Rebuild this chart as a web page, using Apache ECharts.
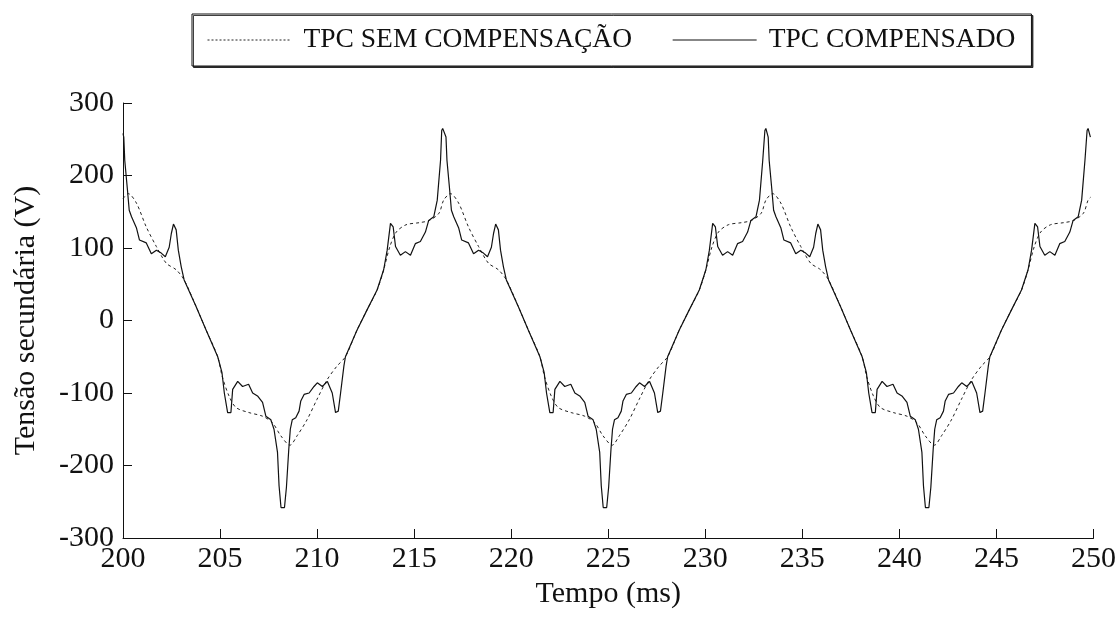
<!DOCTYPE html>
<html>
<head>
<meta charset="utf-8">
<script src="https://cdn.jsdelivr.net/npm/echarts@6/dist/echarts.min.js"></script>
<style>
  html, body { margin: 0; padding: 0; background: #fff; }
  #chart { width: 1119px; height: 623px; }
</style>
</head>
<body>
<div id="chart"></div>
<script>
// Secondary voltage of the CVT, 200–250 ms
const seriesNames = ['TPC SEM COMPENSAÇÃO', 'TPC COMPENSADO'];

// Uncompensated CVT (dashed)
const timeDashed = [
  200.00, 200.27, 200.69, 201.20, 201.72, 202.23, 202.74, 203.15, 203.77, 204.28,
  204.88, 205.11, 205.46, 205.82, 206.49, 207.19, 207.70, 208.13, 208.60, 208.97,
  209.48, 209.99, 210.51, 211.02, 211.46, 212.06, 212.58, 213.09, 213.43, 213.75,
  214.08, 214.58, 215.28, 215.78, 216.28,
  216.52, 216.87, 217.29, 217.80, 218.32, 218.83, 219.34, 219.75, 220.37, 220.88,
  221.48, 221.71, 222.06, 222.42, 223.09, 223.79, 224.30, 224.73, 225.20, 225.57,
  226.08, 226.59, 227.11, 227.62, 228.06, 228.66, 229.18, 229.69, 230.03, 230.35,
  230.68, 231.18, 231.88, 232.38, 232.88,
  233.12, 233.47, 233.89, 234.40, 234.92, 235.43, 235.94, 236.35, 236.97, 237.48,
  238.08, 238.31, 238.66, 239.02, 239.69, 240.39, 240.90, 241.33, 241.80, 242.17,
  242.68, 243.19, 243.71, 244.22, 244.66, 245.26, 245.78, 246.29, 246.63, 246.95,
  247.28, 247.78, 248.48, 248.98, 249.48, 249.72, 249.85
];
const voltDashed = [
  168, 175, 162, 129, 102, 79, 70, 56, 19, -13,
  -50, -77, -104, -120, -127, -132, -141, -159, -172, -159,
  -137, -109, -82, -63, -50, -13, 15, 42, 70, 102,
  122, 132, 135, 138, 148,
  166, 175, 162, 129, 102, 79, 70, 56, 19, -13,
  -50, -77, -104, -120, -127, -132, -141, -159, -172, -159,
  -137, -109, -82, -63, -50, -13, 15, 42, 70, 102,
  122, 132, 135, 138, 148,
  166, 175, 162, 129, 102, 79, 70, 56, 19, -13,
  -50, -77, -104, -120, -127, -132, -141, -159, -172, -159,
  -137, -109, -82, -63, -50, -13, 15, 42, 70, 102,
  122, 132, 135, 138, 148, 166, 170
];

// Compensated CVT (solid)
const timeSolid = [
  200.00, 200.04, 200.09, 200.23, 200.32, 200.44, 200.69, 200.85, 201.20, 201.46,
  201.72, 201.97, 202.18, 202.38, 202.49, 202.60, 202.74, 202.85, 203.00, 203.15,
  203.77, 204.28, 204.88, 205.10, 205.22, 205.39, 205.56, 205.65, 205.91, 206.16,
  206.47, 206.68, 206.93, 207.19, 207.36, 207.62, 207.78, 207.96, 208.04, 208.14,
  208.32, 208.42, 208.54, 208.62, 208.72, 208.90, 209.07, 209.16, 209.33, 209.59,
  209.84, 210.01, 210.27, 210.53, 210.78, 210.95, 211.09, 211.21, 211.38, 211.46,
  212.06, 212.58, 213.09, 213.43, 213.61, 213.78, 213.92, 214.04, 214.29, 214.55,
  214.81, 215.06, 215.32, 215.58, 215.75, 216.01, 216.19, 216.36, 216.42, 216.47,
  216.57, 216.64, 216.69, 216.83, 216.92, 217.04, 217.29, 217.45, 217.80, 218.06,
  218.32, 218.57, 218.78, 218.98, 219.09, 219.20, 219.34, 219.45, 219.60, 219.75,
  220.37, 220.88, 221.48, 221.70, 221.82, 221.99, 222.16, 222.25, 222.51, 222.76,
  223.07, 223.28, 223.53, 223.79, 223.96, 224.22, 224.38, 224.56, 224.64, 224.74,
  224.92, 225.02, 225.14, 225.22, 225.32, 225.50, 225.67, 225.76, 225.93, 226.19,
  226.44, 226.61, 226.87, 227.13, 227.38, 227.55, 227.69, 227.81, 227.98, 228.06,
  228.66, 229.18, 229.69, 230.03, 230.21, 230.38, 230.52, 230.64, 230.89, 231.15,
  231.41, 231.66, 231.92, 232.18, 232.35, 232.61, 232.79, 232.96, 233.07, 233.12,
  233.17, 233.24, 233.29, 233.43, 233.52, 233.64, 233.89, 234.05, 234.40, 234.66,
  234.92, 235.17, 235.38, 235.58, 235.69, 235.80, 235.94, 236.05, 236.20, 236.35,
  236.97, 237.48, 238.08, 238.30, 238.42, 238.59, 238.76, 238.85, 239.11, 239.36,
  239.67, 239.88, 240.13, 240.39, 240.56, 240.82, 240.98, 241.16, 241.24, 241.34,
  241.52, 241.62, 241.74, 241.82, 241.92, 242.10, 242.27, 242.36, 242.53, 242.79,
  243.04, 243.21, 243.47, 243.73, 243.98, 244.15, 244.29, 244.41, 244.58, 244.66,
  245.26, 245.78, 246.29, 246.63, 246.81, 246.98, 247.12, 247.24, 247.49, 247.75,
  248.01, 248.26, 248.52, 248.78, 248.95, 249.21, 249.39, 249.56, 249.67, 249.72,
  249.77, 249.84
];
const voltSolid = [
  258, 253, 221, 180, 152, 143, 128, 111, 107, 92,
  97, 93, 88, 101, 120, 133, 125, 97, 74, 56,
  19, -13, -50, -72, -100, -127, -127, -95, -84, -91,
  -88, -100, -104, -113, -132, -137, -150, -182, -228, -258,
  -258, -230, -178, -150, -137, -134, -125, -111, -102, -100,
  -91, -86, -91, -84, -100, -127, -125, -100, -63, -50,
  -13, 15, 42, 70, 97, 134, 129, 102, 90, 95,
  90, 106, 109, 122, 138, 143, 166, 221, 262, 265,
  264, 253, 221, 180, 152, 143, 128, 111, 107, 92,
  97, 93, 88, 101, 120, 133, 125, 97, 74, 56,
  19, -13, -50, -72, -100, -127, -127, -95, -84, -91,
  -88, -100, -104, -113, -132, -137, -150, -182, -228, -258,
  -258, -230, -178, -150, -137, -134, -125, -111, -102, -100,
  -91, -86, -91, -84, -100, -127, -125, -100, -63, -50,
  -13, 15, 42, 70, 97, 134, 129, 102, 90, 95,
  90, 106, 109, 122, 138, 143, 166, 221, 262, 265,
  264, 253, 221, 180, 152, 143, 128, 111, 107, 92,
  97, 93, 88, 101, 120, 133, 125, 97, 74, 56,
  19, -13, -50, -72, -100, -127, -127, -95, -84, -91,
  -88, -100, -104, -113, -132, -137, -150, -182, -228, -258,
  -258, -230, -178, -150, -137, -134, -125, -111, -102, -100,
  -91, -86, -91, -84, -100, -127, -125, -100, -63, -50,
  -13, 15, 42, 70, 97, 134, 129, 102, 90, 95,
  90, 106, 109, 122, 138, 143, 166, 221, 262, 265,
  264, 253
];

const xTicks = { min: 200, max: 250, step: 5 };
const yTicks = { min: -300, max: 300, step: 100 };
const xTitle = 'Tempo (ms)';
const yTitle = 'Tensão secundária (V)';

const FONT = '"Liberation Serif", "Times New Roman", serif';
const zip = (ts, vs) => ts.map((t, i) => [t, vs[i]]);

const chart = echarts.init(document.getElementById('chart'), null, { renderer: 'canvas' });
chart.setOption({
  animation: false,
  backgroundColor: '#fff',
  color: ['#222', '#111'],
  textStyle: { fontFamily: FONT, color: '#111' },
  grid: { left: 123, right: 21, top: 103, bottom: 85, containLabel: false },
  legend: {
    show: true,
    orient: 'horizontal',
    left: 192,
    top: 14,
    padding: [12, 16, 12, 15],
    itemWidth: 84,
    itemHeight: 14,
    itemGap: 40,
    backgroundColor: '#fff',
    borderColor: '#111',
    borderWidth: 1,
    shadowColor: 'rgba(0,0,0,0.75)',
    shadowOffsetX: 1.5,
    shadowOffsetY: 1.5,
    shadowBlur: 0,
    itemStyle: { opacity: 0 },
    textStyle: { fontFamily: FONT, fontSize: 27.5, color: '#111', padding: [0, 0, 0, 7] },
    data: [
      { name: seriesNames[0], lineStyle: { type: [2, 2], width: 1, color: '#222' } },
      { name: seriesNames[1], lineStyle: { type: 'solid', width: 1.2, color: '#111' } }
    ]
  },
  xAxis: {
    type: 'value',
    min: xTicks.min, max: xTicks.max, interval: xTicks.step,
    name: xTitle,
    nameLocation: 'middle',
    nameGap: 25,
    nameTextStyle: { fontFamily: FONT, fontSize: 30, color: '#111' },
    axisLine: { onZero: false, lineStyle: { color: '#111', width: 1 } },
    axisTick: { inside: true, length: 9, lineStyle: { color: '#111' } },
    axisLabel: { fontFamily: FONT, fontSize: 30, color: '#111', margin: 6 },
    splitLine: { show: false }
  },
  yAxis: {
    type: 'value',
    min: yTicks.min, max: yTicks.max, interval: yTicks.step,
    name: yTitle,
    nameLocation: 'middle',
    nameGap: 82,
    nameRotate: 90,
    nameTextStyle: { fontFamily: FONT, fontSize: 30, color: '#111' },
    axisLine: { onZero: false, lineStyle: { color: '#111', width: 1 } },
    axisTick: { inside: true, length: 9, lineStyle: { color: '#111' } },
    axisLabel: { fontFamily: FONT, fontSize: 30, color: '#111', margin: 9 },
    splitLine: { show: false }
  },
  series: [
    {
      name: seriesNames[0],
      type: 'line',
      data: zip(timeDashed, voltDashed),
      symbol: 'none',
      smooth: 0.3,
      itemStyle: { color: '#222' },
      lineStyle: { color: '#222', width: 1, type: [3, 3] },
      z: 2
    },
    {
      name: seriesNames[1],
      type: 'line',
      data: zip(timeSolid, voltSolid),
      symbol: 'none',
      itemStyle: { color: '#111' },
      lineStyle: { color: '#111', width: 1.2 },
      z: 3
    }
  ]
});
</script>
</body>
</html>
